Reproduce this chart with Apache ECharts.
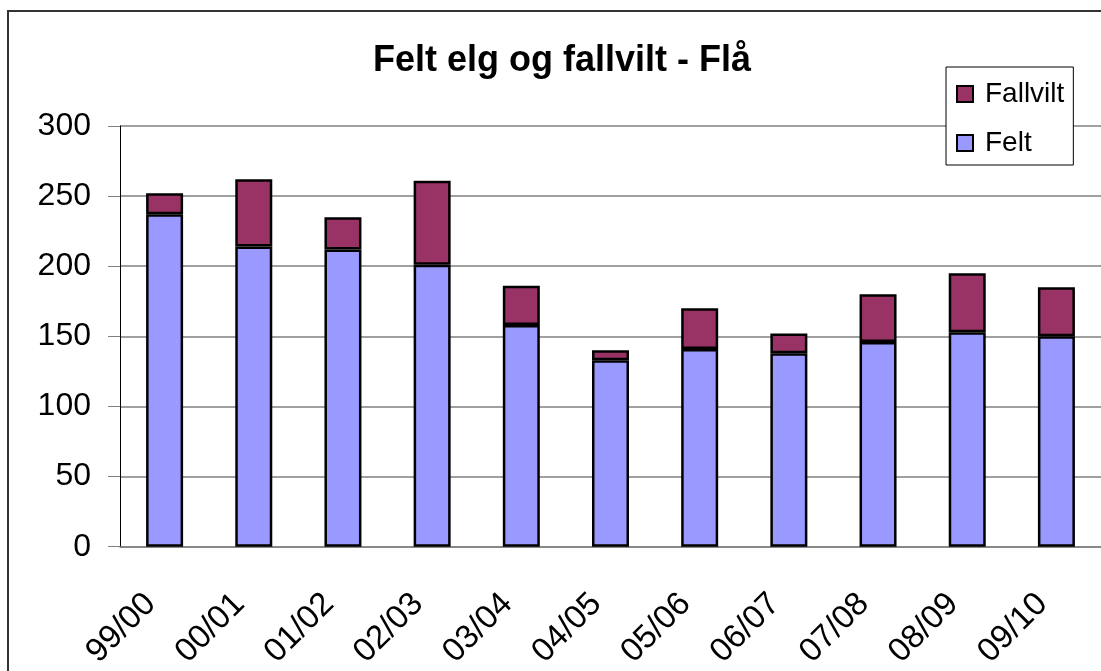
<!DOCTYPE html>
<html>
<head>
<meta charset="utf-8">
<script src="https://cdn.jsdelivr.net/npm/echarts@6/dist/echarts.min.js"></script>
<style>
  html, body { margin: 0; padding: 0; background: #fff; }
  #chart { width: 1101px; height: 671px; }
</style>
</head>
<body>
<div id="chart"></div>
<script>
// sesonger
var seasons = ['99/00', '00/01', '01/02', '02/03', '03/04', '04/05', '05/06', '06/07', '07/08', '08/09', '09/10'];
// felt elg
var felt = [237, 214, 212, 201, 158, 133, 141, 138, 146, 153, 150];
// fallvilt
var fallvilt = [15, 48, 23, 60, 28, 7, 29, 14, 34, 42, 35];

var font = "'Liberation Sans', Arial, sans-serif";

var myChart = echarts.init(document.getElementById('chart'));
var option = {
  backgroundColor: '#fff',
  animation: false,
  title: {
    text: 'Felt elg og fallvilt - Flå',
    left: 557,
    top: 38,
    textAlign: 'center',
    textStyle: { fontFamily: font, fontSize: 36, fontWeight: 'bold', color: '#000' }
  },
  legend: {
    orient: 'vertical',
    left: 946,
    top: 67,
    data: ['Fallvilt', 'Felt'],
    icon: 'rect',
    itemWidth: 16,
    itemHeight: 16,
    itemGap: 21,
    padding: [13, 9, 8, 10],
    borderColor: '#000',
    borderWidth: 1,
    backgroundColor: '#fff',
    textStyle: { fontFamily: font, fontSize: 28, color: '#000', padding: [0, 0, 0, 7] }
  },
  graphic: [{
    type: 'rect',
    shape: { x: 8, y: 11, width: 1200, height: 800 },
    style: { fill: 'none', stroke: '#333', lineWidth: 2 },
    silent: true
  }],
  grid: { left: 120, top: 126, width: 993, height: 423 },
  xAxis: {
    type: 'category',
    data: seasons,
    axisLine: { lineStyle: { color: '#808080', width: 1.5 } },
    axisTick: { length: 12, lineStyle: { color: '#808080' } },
    axisLabel: { rotate: 45, margin: 38, padding: [0, 20, 0, 0], fontFamily: font, fontSize: 33, color: '#000' }
  },
  yAxis: {
    type: 'value',
    min: 0,
    max: 300,
    interval: 50,
    axisLine: { show: true, lineStyle: { color: '#000', width: 1 } },
    axisTick: { show: true, length: 12, lineStyle: { color: '#808080' } },
    axisLabel: { margin: 29, fontFamily: font, fontSize: 32, color: '#000' },
    splitLine: { lineStyle: { color: '#808080', width: 1.5 } }
  },
  series: [
    {
      name: 'Felt',
      type: 'bar',
      stack: 'tot',
      barWidth: 37,
      data: felt,
      itemStyle: { color: '#9999FF', borderColor: '#000', borderWidth: 2.5 }
    },
    {
      name: 'Fallvilt',
      type: 'bar',
      stack: 'tot',
      barWidth: 37,
      data: fallvilt,
      itemStyle: { color: '#993366', borderColor: '#000', borderWidth: 2.5 }
    }
  ]
};
myChart.setOption(option);
</script>
</body>
</html>
